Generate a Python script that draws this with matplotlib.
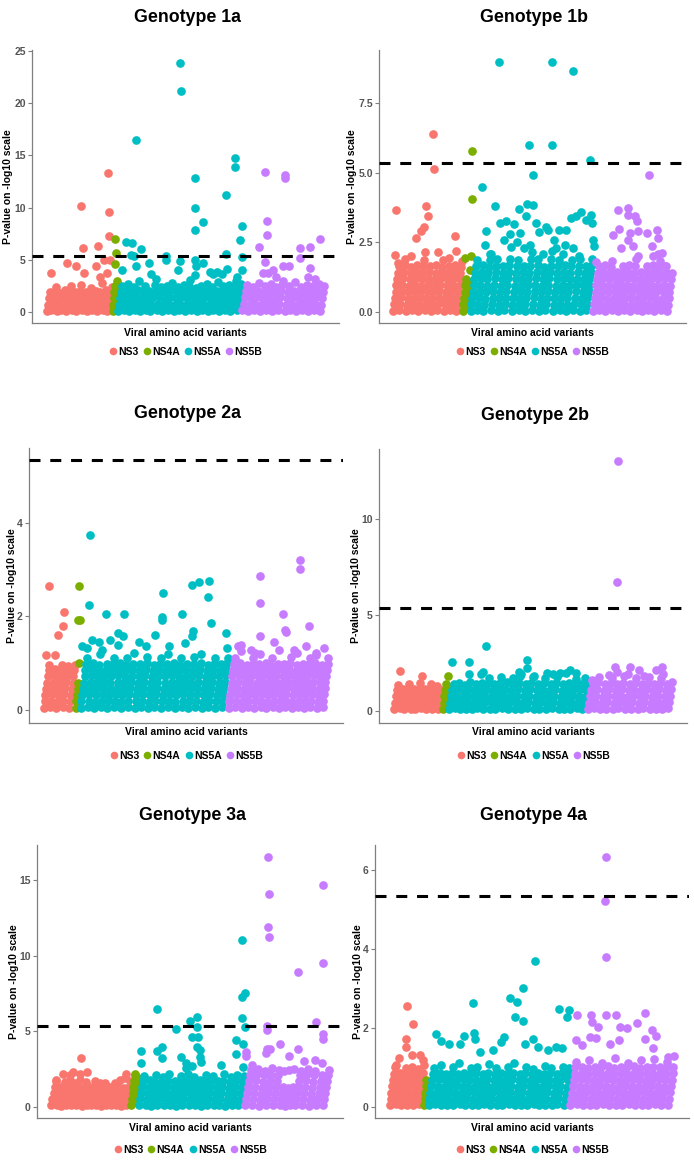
import numpy as np
import matplotlib
matplotlib.use("Agg")
import matplotlib.pyplot as plt
from matplotlib.lines import Line2D

plt.rcParams['font.family'] = ['Liberation Sans', 'DejaVu Sans']

genes = ["NS3", "NS4A", "NS5A", "NS5B"]
colors = ["#F8766D", "#7CAE00", "#00BFC4", "#C77CFF"]
threshold = 5.34

# ---------------- Genotype 1a ----------------
widths_1a = [68, 5, 127, 85]
g1a_ns3 = [0.1, 0.7, 1.3, 1.9, 0.2, 0.8, 1.4, 2.0, 2.4, 0.1, 0.7, 1.2, 1.8, 0.2, 0.8, 1.4, 2.1,
           0.1, 0.6, 1.2, 1.8, 2.5, 0.2, 0.8, 1.3, 1.9, 0.1, 0.7, 1.3, 2.0, 2.6, 0.2, 0.8, 1.4, 1.9,
           0.1, 0.6, 1.2, 1.8, 2.3, 0.2, 0.8, 1.4, 2.0, 0.1, 0.7, 1.3, 1.9, 2.8, 0.2, 0.8, 1.4, 2.1,
           0.1, 0.7, 1.2, 1.8, 2.4]
g1a_ns4a = [0.1, 0.7, 1.3, 1.9, 2.5, 0.4, 1.0, 1.6, 2.2]
g1a_ns5a = [0.1, 0.7, 1.3, 1.9, 2.5, 0.2, 0.8, 1.4, 2.0, 2.7, 0.1, 0.6, 1.2, 1.8, 2.4,
            0.2, 0.8, 1.4, 2.1, 3.0, 0.1, 0.7, 1.3, 1.9, 2.5, 0.2, 0.8, 1.4, 2.0,
            0.1, 0.7, 1.3, 1.9, 2.6, 3.2, 0.2, 0.8, 1.4, 2.0, 2.4, 0.1, 0.6, 1.2, 1.8, 2.5,
            0.2, 0.8, 1.4, 2.1, 2.8, 0.1, 0.7, 1.3, 1.9, 2.4, 0.2, 0.8, 1.4, 2.0, 2.6,
            0.1, 0.7, 1.3, 1.9, 2.5, 3.1, 0.2, 0.8, 1.4, 2.0, 2.3, 0.1, 0.6, 1.2, 1.8, 2.5,
            0.2, 0.8, 1.4, 2.1, 2.7, 0.1, 0.7, 1.3, 1.9, 2.4, 0.2, 0.8, 1.4, 2.0, 2.9,
            0.1, 0.7, 1.3, 1.9, 2.5, 0.2, 0.8, 1.4, 2.0, 2.6, 0.1, 0.6, 1.2, 1.8, 2.4, 3.0,
            0.2, 0.8, 1.4, 2.1, 2.7]
g1a_ns5b = [0.2, 0.8, 1.4, 2.0, 2.6, 0.1, 0.7, 1.3, 1.9, 2.4, 0.2, 0.8, 1.4, 2.0, 2.8,
            0.1, 0.7, 1.3, 1.9, 2.5, 0.2, 0.8, 1.4, 2.1, 2.7, 0.1, 0.6, 1.2, 1.8, 2.4,
            0.2, 0.8, 1.4, 2.0, 2.6, 3.0, 0.1, 0.7, 1.3, 1.9, 2.5, 0.2, 0.8, 1.4, 2.0, 2.9,
            0.1, 0.7, 1.3, 1.9, 2.4, 0.2, 0.8, 1.4, 2.1, 2.6, 0.1, 0.6, 1.2, 1.8, 2.5,
            0.2, 0.8, 1.4, 2.0, 2.7, 0.1, 0.7, 1.3, 1.9, 2.5]
hits_1a = [("NS3", 5, 3.7), ("NS3", 22, 4.7), ("NS3", 31, 4.4), ("NS3", 36, 10.2), ("NS3", 38, 6.1),
           ("NS3", 39, 3.7), ("NS3", 51, 4.4), ("NS3", 53, 6.3), ("NS3", 55, 3.4), ("NS3", 59, 5.0),
           ("NS3", 62, 3.7), ("NS3", 63, 13.3), ("NS3", 64, 9.6), ("NS3", 64, 7.3), ("NS3", 65, 5.0),
           ("NS4A", 70, 7.0), ("NS4A", 71, 4.6), ("NS4A", 72, 5.7), ("NS4A", 73, 3.0),
           ("NS5A", 78, 4.0), ("NS5A", 82, 6.7), ("NS5A", 88, 6.6), ("NS5A", 87, 5.5), ("NS5A", 90, 5.4),
           ("NS5A", 92, 16.5), ("NS5A", 92, 4.4), ("NS5A", 97, 6.0), ("NS5A", 105, 4.7), ("NS5A", 107, 3.6),
           ("NS5A", 123, 5.4), ("NS5A", 123, 5.0), ("NS5A", 137, 23.9), ("NS5A", 138, 21.2), ("NS5A", 137, 4.9),
           ("NS5A", 135, 4.0), ("NS5A", 152, 12.8), ("NS5A", 152, 9.95), ("NS5A", 152, 7.9), ("NS5A", 160, 8.6),
           ("NS5A", 152, 5.0), ("NS5A", 152, 3.5), ("NS5A", 153, 4.4), ("NS5A", 160, 4.7), ("NS5A", 168, 3.8),
           ("NS5A", 171, 3.6), ("NS5A", 175, 3.8), ("NS5A", 184, 11.2), ("NS5A", 184, 5.6), ("NS5A", 185, 4.1),
           ("NS5A", 180, 3.6), ("NS5A", 193, 14.8), ("NS5A", 193, 13.9), ("NS5A", 200, 8.2), ("NS5A", 198, 6.9),
           ("NS5A", 200, 5.3), ("NS5A", 200, 4.0), ("NS5A", 195, 3.4),
           ("NS5B", 218, 6.2), ("NS5B", 224, 13.4), ("NS5B", 226, 8.7), ("NS5B", 226, 7.4), ("NS5B", 224, 4.8),
           ("NS5B", 222, 3.7), ("NS5B", 227, 3.7), ("NS5B", 232, 4.0), ("NS5B", 242, 4.4), ("NS5B", 244, 13.1),
           ("NS5B", 244, 12.8), ("NS5B", 248, 4.4), ("NS5B", 259, 6.1), ("NS5B", 259, 5.2), ("NS5B", 270, 6.2),
           ("NS5B", 270, 4.2), ("NS5B", 268, 3.4), ("NS5B", 280, 7.0), ("NS5B", 275, 3.2), ("NS5B", 235, 3.4)]

# ---------------- Genotype 1b ----------------
widths_1b = [70, 8, 124, 80]
g1b_ns3 = [0.05, 0.28, 0.5, 0.73, 0.96, 1.2, 1.42, 1.65,
           0.08, 0.3, 0.53, 0.76, 0.99, 1.22, 1.45, 1.7, 1.9,
           0.04, 0.26, 0.48, 0.71, 0.94, 1.17, 1.4, 1.62,
           0.07, 0.29, 0.52, 0.75, 0.97, 1.21, 1.44, 1.68,
           0.05, 0.27, 0.5, 0.72, 0.95, 1.18, 1.41, 1.64, 1.86,
           0.06, 0.29, 0.51, 0.74, 0.98, 1.2, 1.43, 1.66,
           0.04, 0.27, 0.49, 0.72, 0.95, 1.19, 1.42, 1.7,
           0.07, 0.3, 0.52, 0.75, 0.97, 1.21, 1.44, 1.63, 1.88,
           0.05, 0.28, 0.5, 0.73, 0.96, 1.2, 1.42, 1.65,
           0.06, 0.29, 0.51, 0.74, 0.98, 1.22, 1.46, 1.69,
           0.04, 0.26, 0.49, 0.72, 0.94, 1.18, 1.4, 1.62, 1.85]
g1b_ns4a = [0.05, 0.28, 0.5, 0.73, 0.96, 1.2, 0.15, 0.4, 0.62, 0.85, 1.08]
g1b_ns5a = [0.05, 0.28, 0.5, 0.73, 0.96, 1.2, 1.42, 1.65, 1.88,
            0.07, 0.3, 0.53, 0.76, 0.99, 1.22, 1.45, 1.68,
            0.04, 0.26, 0.48, 0.71, 0.94, 1.17, 1.4, 1.62, 1.86, 2.1,
            0.06, 0.29, 0.51, 0.74, 0.97, 1.21, 1.44, 1.67, 1.9,
            0.05, 0.27, 0.5, 0.72, 0.95, 1.18, 1.41, 1.64,
            0.08, 0.3, 0.52, 0.75, 0.98, 1.22, 1.45, 1.69, 1.92, 2.35,
            0.04, 0.27, 0.49, 0.72, 0.95, 1.19, 1.42, 1.66, 1.88,
            0.06, 0.29, 0.51, 0.74, 0.97, 1.2, 1.43, 1.65,
            0.05, 0.28, 0.5, 0.73, 0.96, 1.2, 1.42, 1.65, 1.89, 2.15,
            0.07, 0.3, 0.53, 0.76, 0.99, 1.22, 1.45, 1.68, 1.9,
            0.04, 0.26, 0.48, 0.71, 0.94, 1.17, 1.4, 1.62,
            0.06, 0.29, 0.51, 0.74, 0.97, 1.21, 1.44, 1.67, 1.9, 2.2,
            0.05, 0.27, 0.5, 0.72, 0.95, 1.18, 1.41, 1.64, 1.87,
            0.08, 0.3, 0.52, 0.75, 0.98, 1.22, 1.45, 1.69,
            0.04, 0.27, 0.49, 0.72, 0.95, 1.19, 1.42, 1.66, 1.88, 2.3,
            0.06, 0.29, 0.51, 0.74, 0.97, 1.2, 1.43, 1.65, 1.9,
            0.05, 0.28, 0.5, 0.73, 0.96, 1.2, 1.42, 1.65,
            0.07, 0.3, 0.53, 0.76, 0.99, 1.22, 1.45, 1.68, 1.91]
g1b_ns5b = [0.05, 0.28, 0.5, 0.73, 0.96, 1.2, 1.42, 1.65,
            0.07, 0.3, 0.53, 0.76, 0.99, 1.22, 1.45, 1.7,
            0.04, 0.26, 0.48, 0.71, 0.94, 1.17, 1.4, 1.62, 1.85,
            0.06, 0.29, 0.51, 0.74, 0.97, 1.21, 1.44,
            0.05, 0.27, 0.5, 0.72, 0.95, 1.18, 1.41, 1.64,
            0.08, 0.3, 0.52, 0.75, 0.98, 1.22, 1.45, 1.69,
            0.04, 0.27, 0.49, 0.72, 0.95, 1.19, 1.42, 1.66, 1.9,
            0.06, 0.29, 0.51, 0.74, 0.97, 1.2, 1.43,
            0.05, 0.28, 0.5, 0.73, 0.96, 1.2, 1.42, 1.65,
            0.07, 0.3, 0.53, 0.76, 0.99, 1.22, 1.45, 1.68,
            0.04, 0.26, 0.48, 0.71, 0.94, 1.17, 1.4, 1.62, 1.84,
            0.06, 0.29, 0.51, 0.74, 0.97, 1.21, 1.44, 1.67,
            0.05, 0.27, 0.5, 0.72, 0.95, 1.18, 1.41]
hits_1b = [("NS3", 3, 3.67), ("NS3", 2, 2.06), ("NS3", 5, 1.76), ("NS3", 18, 2.0), ("NS3", 23, 2.65),
           ("NS3", 28, 2.9), ("NS3", 31, 3.07), ("NS3", 33, 3.8), ("NS3", 35, 3.46), ("NS3", 40, 6.39),
           ("NS3", 41, 5.13), ("NS3", 32, 2.15), ("NS3", 46, 2.15), ("NS3", 57, 1.94), ("NS3", 63, 2.72),
           ("NS3", 64, 2.18),
           ("NS4A", 73, 1.94), ("NS4A", 80, 5.77), ("NS4A", 80, 4.06), ("NS4A", 79, 2.0), ("NS4A", 78, 1.5),
           ("NS5A", 90, 4.5), ("NS5A", 93, 2.42), ("NS5A", 94, 2.9), ("NS5A", 103, 3.8), ("NS5A", 107, 8.96),
           ("NS5A", 108, 3.2), ("NS5A", 114, 3.25), ("NS5A", 122, 3.17), ("NS5A", 127, 3.7), ("NS5A", 128, 2.83),
           ("NS5A", 135, 3.89), ("NS5A", 134, 3.43), ("NS5A", 137, 5.98), ("NS5A", 141, 4.93), ("NS5A", 142, 3.85),
           ("NS5A", 145, 3.2), ("NS5A", 148, 2.86), ("NS5A", 155, 3.07), ("NS5A", 157, 2.95), ("NS5A", 161, 8.96),
           ("NS5A", 161, 6.0), ("NS5A", 163, 2.6), ("NS5A", 168, 2.95), ("NS5A", 174, 2.42), ("NS5A", 175, 2.95),
           ("NS5A", 180, 3.37), ("NS5A", 182, 8.64), ("NS5A", 185, 3.43), ("NS5A", 190, 3.58), ("NS5A", 199, 5.47),
           ("NS5A", 200, 3.49), ("NS5A", 201, 3.2), ("NS5A", 202, 2.6), ("NS5A", 195, 3.3), ("NS5A", 203, 2.38),
           ("NS5A", 99, 2.1), ("NS5A", 112, 2.6), ("NS5A", 118, 2.8), ("NS5A", 125, 2.5), ("NS5A", 132, 2.3),
           ("NS5A", 138, 2.4), ("NS5A", 152, 2.1), ("NS5A", 165, 2.3), ("NS5A", 172, 2.1), ("NS5A", 188, 2.0),
           ("NS5B", 205, 1.8), ("NS5B", 222, 2.78), ("NS5B", 227, 3.65), ("NS5B", 228, 2.98), ("NS5B", 237, 3.73),
           ("NS5B", 237, 3.5), ("NS5B", 240, 2.83), ("NS5B", 245, 3.43), ("NS5B", 247, 3.25), ("NS5B", 248, 2.9),
           ("NS5B", 230, 2.3), ("NS5B", 238, 2.6), ("NS5B", 243, 2.36), ("NS5B", 248, 2.0), ("NS5B", 257, 2.83),
           ("NS5B", 259, 4.9), ("NS5B", 267, 2.95), ("NS5B", 268, 2.65), ("NS5B", 262, 2.36), ("NS5B", 272, 2.12),
           ("NS5B", 275, 1.64), ("NS5B", 268, 2.1), ("NS5B", 263, 2.0)]

# ---------------- Genotype 2a ----------------
widths_2a = [33, 5, 152, 103]
g2a_ns3 = [0.05, 0.18, 0.32, 0.45, 0.58, 0.72, 0.85, 0.95,
           0.07, 0.2, 0.34, 0.47, 0.6, 0.74, 0.87,
           0.04, 0.17, 0.31, 0.44, 0.57, 0.71, 0.84, 0.96,
           0.06, 0.19, 0.33, 0.46, 0.59, 0.73, 0.86, 0.93,
           0.05, 0.18, 0.32, 0.45, 0.58, 0.72, 0.85, 0.97]
g2a_ns4a = [0.05, 0.18, 0.32, 0.45, 0.1, 0.25, 0.4]
g2a_ns5a = [0.05, 0.18, 0.32, 0.45, 0.58, 0.72, 0.85, 0.98, 1.1,
            0.07, 0.2, 0.34, 0.47, 0.6, 0.74, 0.87, 1.0,
            0.04, 0.17, 0.31, 0.44, 0.57, 0.71, 0.84, 0.97, 1.2,
            0.06, 0.19, 0.33, 0.46, 0.59, 0.73, 0.86, 0.99,
            0.05, 0.18, 0.32, 0.45, 0.58, 0.72, 0.85, 0.98, 1.12,
            0.07, 0.2, 0.34, 0.47, 0.6, 0.74, 0.87, 1.0,
            0.04, 0.17, 0.31, 0.44, 0.57, 0.71, 0.84, 0.97, 1.1,
            0.06, 0.19, 0.33, 0.46, 0.59, 0.73, 0.86, 0.99, 1.22,
            0.05, 0.18, 0.32, 0.45, 0.58, 0.72, 0.85, 0.98,
            0.07, 0.2, 0.34, 0.47, 0.6, 0.74, 0.87, 1.0, 1.13,
            0.04, 0.17, 0.31, 0.44, 0.57, 0.71, 0.84, 0.97,
            0.06, 0.19, 0.33, 0.46, 0.59, 0.73, 0.86, 0.99, 1.11,
            0.05, 0.18, 0.32, 0.45, 0.58, 0.72, 0.85, 0.98, 1.2,
            0.07, 0.2, 0.34, 0.47, 0.6, 0.74, 0.87, 1.0,
            0.04, 0.17, 0.31, 0.44, 0.57, 0.71, 0.84, 0.97, 1.1,
            0.06, 0.19, 0.33, 0.46, 0.59, 0.73, 0.86, 0.99,
            0.05, 0.18, 0.32, 0.45, 0.58, 0.72, 0.85, 0.98, 1.14,
            0.07, 0.2, 0.34, 0.47, 0.6, 0.74, 0.87, 1.0, 1.2,
            0.04, 0.17, 0.31, 0.44, 0.57, 0.71, 0.84, 0.97,
            0.06, 0.19, 0.33, 0.46, 0.59, 0.73, 0.86, 0.99, 1.1,
            0.05, 0.18, 0.32, 0.45, 0.58, 0.72, 0.85, 0.98,
            0.07, 0.2, 0.34, 0.47, 0.6, 0.74, 0.87, 1.0, 1.12]
g2a_ns5b = [0.05, 0.18, 0.32, 0.45, 0.58, 0.72, 0.85, 0.98, 1.12,
            0.07, 0.2, 0.34, 0.47, 0.6, 0.74, 0.87, 1.0, 1.25,
            0.04, 0.17, 0.31, 0.44, 0.57, 0.71, 0.84, 0.97,
            0.06, 0.19, 0.33, 0.46, 0.59, 0.73, 0.86, 0.99, 1.1,
            0.05, 0.18, 0.32, 0.45, 0.58, 0.72, 0.85, 0.98, 1.2,
            0.07, 0.2, 0.34, 0.47, 0.6, 0.74, 0.87, 1.0,
            0.04, 0.17, 0.31, 0.44, 0.57, 0.71, 0.84, 0.97, 1.1,
            0.06, 0.19, 0.33, 0.46, 0.59, 0.73, 0.86, 0.99, 1.28,
            0.05, 0.18, 0.32, 0.45, 0.58, 0.72, 0.85, 0.98,
            0.07, 0.2, 0.34, 0.47, 0.6, 0.74, 0.87, 1.0, 1.13,
            0.04, 0.17, 0.31, 0.44, 0.57, 0.71, 0.84, 0.97, 1.22,
            0.06, 0.19, 0.33, 0.46, 0.59, 0.73, 0.86, 0.99,
            0.05, 0.18, 0.32, 0.45, 0.58, 0.72, 0.85, 0.98, 1.1,
            0.07, 0.2, 0.34, 0.47, 0.6, 0.74, 0.87, 1.0, 1.18,
            0.04, 0.17, 0.31, 0.44, 0.57, 0.71, 0.84, 0.97,
            0.06, 0.19, 0.33, 0.46, 0.59, 0.73, 0.86, 0.99, 1.12]
hits_2a = [("NS3", 6, 2.64), ("NS3", 3, 1.18), ("NS3", 12, 1.18), ("NS3", 15, 1.61), ("NS3", 20, 1.8),
           ("NS3", 21, 2.1),
           ("NS4A", 37, 2.64), ("NS4A", 36, 1.93), ("NS4A", 38, 1.93), ("NS4A", 37, 1.0), ("NS4A", 36, 0.57),
           ("NS5A", 48, 3.73), ("NS5A", 47, 2.25), ("NS5A", 40, 1.36), ("NS5A", 45, 1.32), ("NS5A", 50, 1.5),
           ("NS5A", 57, 1.46), ("NS5A", 60, 1.29), ("NS5A", 64, 2.04), ("NS5A", 68, 1.5), ("NS5A", 77, 1.64),
           ("NS5A", 83, 2.04), ("NS5A", 82, 1.57), ("NS5A", 77, 1.39), ("NS5A", 98, 1.46), ("NS5A", 105, 1.36),
           ("NS5A", 115, 1.61), ("NS5A", 123, 2.51), ("NS5A", 122, 1.99), ("NS5A", 122, 1.93), ("NS5A", 129, 1.36),
           ("NS5A", 142, 2.04), ("NS5A", 145, 1.43), ("NS5A", 153, 2.68), ("NS5A", 160, 2.74), ("NS5A", 154, 1.68),
           ("NS5A", 153, 1.57), ("NS5A", 170, 2.75), ("NS5A", 169, 2.41), ("NS5A", 172, 1.86), ("NS5A", 188, 1.64),
           ("NS5A", 189, 1.32),
           ("NS5B", 200, 1.36), ("NS5B", 203, 1.39), ("NS5B", 213, 1.29), ("NS5B", 217, 1.21), ("NS5B", 222, 2.86),
           ("NS5B", 222, 2.29), ("NS5B", 222, 1.59), ("NS5B", 237, 1.46), ("NS5B", 246, 2.04), ("NS5B", 248, 1.71),
           ("NS5B", 249, 1.66), ("NS5B", 257, 1.29), ("NS5B", 264, 3.21), ("NS5B", 264, 3.01), ("NS5B", 270, 1.36),
           ("NS5B", 273, 1.8), ("NS5B", 280, 1.21), ("NS5B", 288, 1.32)]

# ---------------- Genotype 2b ----------------
widths_2b = [51, 6, 143, 88]
g2b_ns3 = [0.1, 0.43, 0.76, 1.1, 1.35, 0.15, 0.48, 0.8, 1.15, 0.08, 0.4, 0.73, 1.05, 1.4,
           0.12, 0.45, 0.78, 1.12, 0.1, 0.43, 0.76, 1.1, 1.45, 0.14, 0.47, 0.8, 1.13,
           0.08, 0.41, 0.74, 1.07, 1.38, 0.12, 0.45, 0.78, 1.1, 1.3, 0.1, 0.43, 0.76, 1.1]
g2b_ns4a = [0.1, 0.43, 0.76, 1.1, 1.4, 0.25, 0.6, 0.95, 1.25]
g2b_ns5a = [0.1, 0.43, 0.76, 1.1, 1.4, 0.15, 0.48, 0.8, 1.15, 1.45, 0.08, 0.4, 0.73, 1.05, 1.35,
            0.12, 0.45, 0.78, 1.12, 1.5, 0.1, 0.43, 0.76, 1.1, 1.4, 0.14, 0.47, 0.8, 1.13, 1.45,
            0.08, 0.41, 0.74, 1.07, 1.4, 1.7, 0.12, 0.45, 0.78, 1.1, 1.42,
            0.1, 0.43, 0.76, 1.1, 1.45, 1.75, 0.15, 0.48, 0.8, 1.15, 1.5,
            0.08, 0.4, 0.73, 1.05, 1.38, 1.7, 0.12, 0.45, 0.78, 1.12, 1.45, 1.8,
            0.1, 0.43, 0.76, 1.1, 1.42, 0.14, 0.47, 0.8, 1.13, 1.46, 1.75,
            0.08, 0.41, 0.74, 1.07, 1.4, 0.12, 0.45, 0.78, 1.1, 1.44, 1.72,
            0.1, 0.43, 0.76, 1.1, 1.4, 0.15, 0.48, 0.8, 1.15, 1.48, 1.78,
            0.08, 0.4, 0.73, 1.05, 1.38, 0.12, 0.45, 0.78, 1.12, 1.45,
            0.1, 0.43, 0.76, 1.1, 1.4, 1.65, 0.14, 0.47, 0.8, 1.13, 1.42, 0.08, 0.41, 0.74, 1.07, 1.36]
g2b_ns5b = [0.1, 0.43, 0.76, 1.1, 1.45, 0.15, 0.48, 0.8, 1.15, 1.5, 1.75, 0.08, 0.4, 0.73, 1.05, 1.4,
            0.12, 0.45, 0.78, 1.12, 1.45, 1.7, 0.1, 0.43, 0.76, 1.1, 1.42,
            0.14, 0.47, 0.8, 1.13, 1.46, 1.8, 0.08, 0.41, 0.74, 1.07, 1.4,
            0.12, 0.45, 0.78, 1.1, 1.44, 1.72, 0.1, 0.43, 0.76, 1.1, 1.4,
            0.15, 0.48, 0.8, 1.15, 1.48, 1.78, 0.08, 0.4, 0.73, 1.05, 1.38,
            0.12, 0.45, 0.78, 1.12, 1.45, 1.7, 0.1, 0.43, 0.76, 1.1, 1.4, 0.14, 0.47, 0.8, 1.13, 1.5]
hits_2b = [("NS3", 7, 2.1), ("NS3", 30, 1.8),
           ("NS4A", 57, 1.83),
           ("NS5A", 61, 2.57), ("NS5A", 78, 2.57), ("NS5A", 78, 1.93), ("NS5A", 93, 2.05), ("NS5A", 96, 3.36),
           ("NS5A", 130, 2.05), ("NS5A", 138, 2.66), ("NS5A", 138, 2.23), ("NS5A", 158, 1.97), ("NS5A", 172, 1.97),
           ("NS5A", 182, 2.14), ("NS5A", 188, 1.97), ("NS5A", 197, 1.7), ("NS5A", 132, 1.9), ("NS5A", 145, 1.8),
           ("NS5A", 165, 1.9), ("NS5A", 178, 2.0), ("NS5A", 90, 1.9),
           ("NS5B", 231, 13.0), ("NS5B", 230, 6.7), ("NS5B", 228, 2.28), ("NS5B", 230, 2.05), ("NS5B", 244, 2.31),
           ("NS5B", 253, 2.14), ("NS5B", 270, 2.14), ("NS5B", 277, 2.31), ("NS5B", 222, 1.88), ("NS5B", 205, 1.6),
           ("NS5B", 242, 1.9), ("NS5B", 258, 1.8), ("NS5B", 278, 1.9)]

# ---------------- Genotype 3a ----------------
widths_3a = [83, 8, 110, 88]
g3a_ns3 = [0.1, 0.5, 0.9, 1.3, 1.7, 0.15, 0.55, 0.95, 1.35, 0.08, 0.48, 0.88, 1.28, 1.68,
           0.12, 0.52, 0.92, 1.32, 1.75, 0.1, 0.5, 0.9, 1.3, 1.6, 0.14, 0.54, 0.94, 1.34, 1.8,
           0.08, 0.48, 0.88, 1.28, 1.65, 0.12, 0.52, 0.92, 1.32, 0.1, 0.5, 0.9, 1.3, 1.7,
           0.15, 0.55, 0.95, 1.35, 1.6, 0.08, 0.48, 0.88, 1.28, 1.55, 0.12, 0.52, 0.92, 1.32,
           0.1, 0.5, 0.9, 1.3, 1.6, 0.14, 0.54, 0.94, 1.34, 1.75, 0.08, 0.48, 0.88, 1.28, 1.9,
           0.12, 0.52, 0.92, 1.32, 1.7]
g3a_ns4a = [0.1, 0.5, 0.9, 1.3, 1.7, 2.1, 0.3, 0.7, 1.1, 1.5, 1.9]
g3a_ns5a = [0.1, 0.5, 0.9, 1.3, 1.7, 2.05, 0.15, 0.55, 0.95, 1.35, 1.75,
            0.08, 0.48, 0.88, 1.28, 1.68, 2.1, 0.12, 0.52, 0.92, 1.32, 1.72, 2.0,
            0.1, 0.5, 0.9, 1.3, 1.7, 2.15, 0.14, 0.54, 0.94, 1.34, 1.74,
            0.08, 0.48, 0.88, 1.28, 1.68, 2.05, 0.12, 0.52, 0.92, 1.32, 1.72, 2.2,
            0.1, 0.5, 0.9, 1.3, 1.7, 2.0, 0.15, 0.55, 0.95, 1.35, 1.75,
            0.08, 0.48, 0.88, 1.28, 1.68, 2.1, 0.12, 0.52, 0.92, 1.32, 1.72, 2.05,
            0.1, 0.5, 0.9, 1.3, 1.7, 0.14, 0.54, 0.94, 1.34, 1.74, 2.15,
            0.08, 0.48, 0.88, 1.28, 1.68, 2.0, 0.12, 0.52, 0.92, 1.32, 1.72, 2.1,
            0.1, 0.5, 0.9, 1.3, 1.7, 2.05]
g3a_ns5b = [0.1, 0.5, 0.9, 1.3, 1.7, 2.1, 2.45, 0.15, 0.55, 0.95, 1.35, 1.75, 2.15, 2.5,
            0.08, 0.48, 0.88, 1.28, 1.68, 2.08, 2.4, 0.12, 0.52, 0.92, 1.32, 1.72, 2.12, 2.55,
            0.1, 0.5, 0.9, 1.3, 1.7, 2.1, 2.45, 0.14, 0.54, 0.94, 1.34, 2.4,
            0.08, 0.48, 0.88, 1.28, 2.45, 0.12, 0.52, 0.92, 1.32, 2.5,
            0.1, 0.5, 0.9, 1.3, 1.7, 2.1, 2.4, 0.15, 0.55, 0.95, 1.35, 1.75, 2.15, 2.5,
            0.08, 0.48, 0.88, 1.28, 1.68, 2.08, 2.4, 0.12, 0.52, 0.92, 1.32, 1.72, 2.12,
            0.1, 0.5, 0.9, 1.3, 1.7, 2.1, 2.45]
hits_3a = [("NS3", 31, 3.2), ("NS3", 30, 2.2), ("NS3", 38, 2.3), ("NS3", 13, 2.2), ("NS3", 5, 1.76),
           ("NS3", 78, 2.2), ("NS3", 20, 2.1), ("NS3", 23, 2.3),
           ("NS4A", 87, 2.2),
           ("NS5A", 94, 3.7), ("NS5A", 94, 2.9), ("NS5A", 110, 6.44), ("NS5A", 110, 3.7), ("NS5A", 115, 3.97),
           ("NS5A", 115, 3.26), ("NS5A", 130, 5.18), ("NS5A", 135, 3.3), ("NS5A", 140, 2.9), ("NS5A", 144, 5.7),
           ("NS5A", 147, 4.63), ("NS5A", 152, 5.95), ("NS5A", 152, 5.3), ("NS5A", 153, 4.63), ("NS5A", 152, 3.97),
           ("NS5A", 155, 3.75), ("NS5A", 155, 3.3), ("NS5A", 156, 2.98), ("NS5A", 177, 2.76), ("NS5A", 192, 4.41),
           ("NS5A", 192, 3.49), ("NS5A", 199, 11.0), ("NS5A", 199, 7.24), ("NS5A", 202, 7.5), ("NS5A", 199, 5.85),
           ("NS5A", 202, 5.3), ("NS5A", 200, 4.13), ("NS5A", 200, 2.65), ("NS5A", 140, 2.6), ("NS5A", 147, 2.7),
           ("NS5B", 203, 3.64), ("NS5B", 203, 3.35), ("NS5B", 209, 2.76), ("NS5B", 226, 16.5), ("NS5B", 227, 14.07),
           ("NS5B", 226, 11.9), ("NS5B", 227, 11.25), ("NS5B", 225, 5.34), ("NS5B", 225, 5.07), ("NS5B", 225, 3.8),
           ("NS5B", 228, 3.8), ("NS5B", 223, 3.53), ("NS5B", 238, 4.19), ("NS5B", 247, 3.35), ("NS5B", 257, 8.93),
           ("NS5B", 257, 3.86), ("NS5B", 263, 3.04), ("NS5B", 275, 5.62), ("NS5B", 274, 3.13), ("NS5B", 283, 14.65),
           ("NS5B", 283, 9.49), ("NS5B", 283, 4.85), ("NS5B", 283, 4.52), ("NS5B", 282, 2.87)]

# ---------------- Genotype 4a ----------------
widths_4a = [36, 4, 146, 108]
g4a_ns3 = [0.05, 0.2, 0.36, 0.52, 0.68, 0.84, 1.0, 0.07, 0.22, 0.38, 0.54, 0.7, 0.86,
           0.04, 0.19, 0.35, 0.51, 0.67, 0.83, 0.98, 0.06, 0.21, 0.37, 0.53, 0.69, 0.85, 1.02,
           0.05, 0.2, 0.36, 0.52, 0.68, 0.84, 0.96, 0.07, 0.22, 0.38, 0.54, 0.7, 0.86, 1.05]
g4a_ns4a = [0.05, 0.2, 0.36, 0.52, 0.68, 0.12, 0.28, 0.44, 0.6]
g4a_ns5a = [0.05, 0.2, 0.36, 0.52, 0.68, 0.84, 0.98, 0.07, 0.22, 0.38, 0.54, 0.7, 0.86, 1.05,
            0.04, 0.19, 0.35, 0.51, 0.67, 0.83, 0.06, 0.21, 0.37, 0.53, 0.69, 0.85, 1.0,
            0.05, 0.2, 0.36, 0.52, 0.68, 0.84, 1.1, 0.07, 0.22, 0.38, 0.54, 0.7, 0.86,
            0.04, 0.19, 0.35, 0.51, 0.67, 0.83, 0.99, 0.06, 0.21, 0.37, 0.53, 0.69, 0.85, 1.02,
            0.05, 0.2, 0.36, 0.52, 0.68, 0.84, 0.07, 0.22, 0.38, 0.54, 0.7, 0.86, 1.08,
            0.04, 0.19, 0.35, 0.51, 0.67, 0.83, 0.98, 0.06, 0.21, 0.37, 0.53, 0.69, 0.85,
            0.05, 0.2, 0.36, 0.52, 0.68, 0.84, 1.0, 0.07, 0.22, 0.38, 0.54, 0.7, 0.86, 1.12,
            0.04, 0.19, 0.35, 0.51, 0.67, 0.83, 0.06, 0.21, 0.37, 0.53, 0.69, 0.85, 1.01,
            0.05, 0.2, 0.36, 0.52, 0.68, 0.84, 0.97, 0.07, 0.22, 0.38, 0.54, 0.7, 0.86,
            0.04, 0.19, 0.35, 0.51, 0.67, 0.83, 1.04, 0.06, 0.21, 0.37, 0.53, 0.69, 0.85, 0.99,
            0.05, 0.2, 0.36, 0.52, 0.68, 0.84, 0.07, 0.22, 0.38, 0.54, 0.7, 0.86, 1.0,
            0.04, 0.19, 0.35, 0.51, 0.67, 0.83, 0.98]
g4a_ns5b = [0.05, 0.2, 0.36, 0.52, 0.68, 0.84, 1.0, 1.15, 0.07, 0.22, 0.38, 0.54, 0.7, 0.86, 1.02,
            0.04, 0.19, 0.35, 0.51, 0.67, 0.83, 0.99, 1.2, 0.06, 0.21, 0.37, 0.53, 0.69, 0.85, 1.01,
            0.05, 0.2, 0.36, 0.52, 0.68, 0.84, 1.0, 1.12, 0.07, 0.22, 0.38, 0.54, 0.7, 0.86, 1.03,
            0.04, 0.19, 0.35, 0.51, 0.67, 0.83, 0.98, 1.25, 0.06, 0.21, 0.37, 0.53, 0.69, 0.85, 1.0,
            0.05, 0.2, 0.36, 0.52, 0.68, 0.84, 1.0, 1.1, 0.07, 0.22, 0.38, 0.54, 0.7, 0.86, 1.04,
            0.04, 0.19, 0.35, 0.51, 0.67, 0.83, 0.99, 1.18, 0.06, 0.21, 0.37, 0.53, 0.69, 0.85, 1.01,
            0.05, 0.2, 0.36, 0.52, 0.68, 0.84, 1.0, 1.22, 0.07, 0.22, 0.38, 0.54, 0.7, 0.86, 1.02,
            0.04, 0.19, 0.35, 0.51, 0.67, 0.83, 0.99, 1.15, 0.06, 0.21, 0.37, 0.53, 0.69, 0.85, 1.01, 1.28]
hits_4a = [("NS3", 18, 2.55), ("NS3", 24, 2.1), ("NS3", 17, 1.71), ("NS3", 17, 1.52), ("NS3", 23, 1.31),
           ("NS3", 32, 1.31), ("NS3", 35, 1.18), ("NS3", 7, 1.06), ("NS3", 10, 1.23),
           ("NS5A", 48, 1.84), ("NS5A", 53, 1.67), ("NS5A", 62, 1.6), ("NS5A", 86, 2.64), ("NS5A", 87, 1.88),
           ("NS5A", 88, 1.73), ("NS5A", 77, 1.79), ("NS5A", 73, 1.6), ("NS5A", 93, 1.39), ("NS5A", 107, 1.45),
           ("NS5A", 115, 1.65), ("NS5A", 118, 1.76), ("NS5A", 124, 2.77), ("NS5A", 132, 2.66), ("NS5A", 130, 2.27),
           ("NS5A", 138, 2.18), ("NS5A", 138, 3.0), ("NS5A", 140, 1.6), ("NS5A", 148, 1.71), ("NS5A", 150, 3.7),
           ("NS5A", 153, 1.52), ("NS5A", 163, 1.44), ("NS5A", 175, 2.49), ("NS5A", 183, 2.27), ("NS5A", 185, 2.45),
           ("NS5A", 172, 1.52), ("NS5A", 178, 1.48),
           ("NS5B", 193, 2.32), ("NS5B", 192, 1.69), ("NS5B", 198, 1.56), ("NS5B", 208, 2.32), ("NS5B", 209, 2.15),
           ("NS5B", 215, 2.03), ("NS5B", 207, 1.78), ("NS5B", 213, 1.75), ("NS5B", 223, 6.32), ("NS5B", 222, 5.22),
           ("NS5B", 223, 3.8), ("NS5B", 223, 2.32), ("NS5B", 227, 1.6), ("NS5B", 233, 2.32), ("NS5B", 237, 1.69),
           ("NS5B", 238, 2.03), ("NS5B", 245, 1.99), ("NS5B", 255, 2.13), ("NS5B", 263, 2.37), ("NS5B", 263, 1.73),
           ("NS5B", 271, 1.94), ("NS5B", 275, 1.79), ("NS5B", 272, 1.48), ("NS5B", 287, 1.27)]

# ---------------- layout ----------------
W, H = 694, 1165
fig = plt.figure(figsize=(W / 100, H / 100), dpi=100)
fig.patch.set_facecolor("white")

panels = [
    ("Genotype 1a", (32, 50, 339, 323), widths_1a, [g1a_ns3, g1a_ns4a, g1a_ns5a, g1a_ns5b], hits_1a,
     (-1.05, 25.1), [0, 5, 10, 15, 20, 25], ["0", "5", "10", "15", "20", "25"], 18, 333, 352, 8),
    ("Genotype 1b", (379, 50, 686, 323), widths_1b, [g1b_ns3, g1b_ns4a, g1b_ns5a, g1b_ns5b], hits_1b,
     (-0.39, 9.40), [0, 2.5, 5.0, 7.5], ["0.0", "2.5", "5.0", "7.5"], 18, 333, 352, 352),
    ("Genotype 2a", (29, 448, 343, 723), widths_2a, [g2a_ns3, g2a_ns4a, g2a_ns5a, g2a_ns5b], hits_2a,
     (-0.28, 5.6), [0, 2, 4], ["0", "2", "4"], 413, 732, 756, 12),
    ("Genotype 2b", (379, 449, 687, 723), widths_2b, [g2b_ns3, g2b_ns4a, g2b_ns5a, g2b_ns5b], hits_2b,
     (-0.63, 13.65), [0, 5, 10], ["0", "5", "10"], 415, 732, 756, 356),
    ("Genotype 3a", (37, 845, 343, 1118), widths_3a, [g3a_ns3, g3a_ns4a, g3a_ns5a, g3a_ns5b], hits_3a,
     (-0.73, 17.3), [0, 5, 10, 15], ["0", "5", "10", "15"], 815, 1128, 1150, 14),
    ("Genotype 4a", (375, 845, 689, 1118), widths_4a, [g4a_ns3, g4a_ns4a, g4a_ns5a, g4a_ns5b], hits_4a,
     (-0.28, 6.63), [0, 2, 4, 6], ["0", "2", "4", "6"], 815, 1128, 1150, 358),
]

axis_grey = "#7F7F7F"
tick_grey = "#555555"

for (title, rect, widths, bulks, hits, ylim, yt, ytl, ty, xly, legy, yly) in panels:
    l, t, r, b = rect
    ax = fig.add_axes([l / W, 1 - b / H, (r - l) / W, (b - t) / H])
    total = sum(widths)
    offsets = np.concatenate([[0], np.cumsum(widths)[:-1]])
    for gi, g in enumerate(genes):
        vals = np.asarray(bulks[gi], dtype=float)
        n = len(vals)
        xs = offsets[gi] + (np.arange(n) + 0.5) * widths[gi] / n
        hx = [h[1] for h in hits if h[0] == g]
        hy = [h[2] for h in hits if h[0] == g]
        allx = np.concatenate([xs, hx])
        ally = np.concatenate([vals, hy])
        ax.scatter(allx, ally, s=39, color=colors[gi], linewidths=0, zorder=2)
    ax.axhline(threshold, color="black", lw=2.2, dashes=(3.6, 3.2), dash_capstyle="butt", zorder=3)
    ax.set_xlim(-0.05 * total, 1.05 * total)
    ax.set_ylim(*ylim)
    ax.set_xticks([])
    ax.set_yticks(yt)
    ax.set_yticklabels(ytl, fontsize=7.5, color=tick_grey, fontweight="bold")
    ax.tick_params(axis="y", length=3, width=0.8, color=axis_grey, pad=1.5)
    for sp in ["top", "right"]:
        ax.spines[sp].set_visible(False)
    for sp in ["left", "bottom"]:
        ax.spines[sp].set_color(axis_grey)
        ax.spines[sp].set_linewidth(0.9)
    ax.set_facecolor("white")

    cx = (l + r) / 2
    fig.text((cx + 2) / W, 1 - ty / H, title, ha="center", va="center", fontsize=12.8, fontweight="bold")
    fig.text(cx / W, 1 - xly / H, "Viral amino acid variants", ha="center", va="center",
             fontsize=7.5, fontweight="bold")
    fig.text(yly / W, 1 - ((t + b) / 2) / H, "P-value on -log10 scale", ha="center", va="center",
             rotation=90, fontsize=7.5, fontweight="bold")
    handles = [Line2D([], [], marker="o", linestyle="none", markersize=5.5, markeredgewidth=0,
                      color=c, label=g) for g, c in zip(genes, colors)]
    fig.legend(handles=handles, loc="center", bbox_to_anchor=(cx / W, 1 - legy / H), ncol=4,
               frameon=False, handletextpad=0.05, columnspacing=0.35, handlelength=0.9,
               borderaxespad=0, prop={"weight": "bold", "size": 7.5})

fig.savefig("out.png", dpi=100, facecolor="white")
